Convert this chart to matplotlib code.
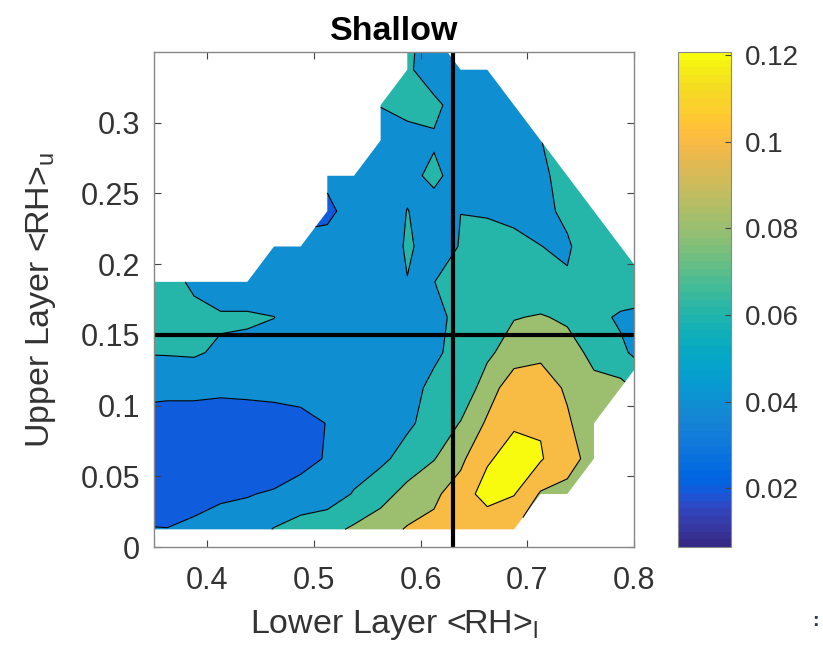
import numpy as np
import matplotlib
matplotlib.use("Agg")
import matplotlib.pyplot as plt
from matplotlib.colors import ListedColormap, Normalize
from matplotlib.cm import ScalarMappable

plt.rcParams['font.family'] = ['Liberation Sans', 'DejaVu Sans']
plt.rcParams['mathtext.fontset'] = 'custom'
plt.rcParams['mathtext.rm'] = 'Liberation Sans'

# grid of bin centres (lower layer RH along x, upper layer RH along y)
rh_lower = [0.3375, 0.3625, 0.3875, 0.4125, 0.4375, 0.4625, 0.4875, 0.5125, 0.5375, 0.5625,
            0.5875, 0.6125, 0.6375, 0.6625, 0.6875, 0.7125, 0.7375, 0.7625, 0.7875, 0.8125]
rh_upper = [0.0125, 0.0375, 0.0625, 0.0875, 0.1125, 0.1375, 0.1625, 0.1875, 0.2125, 0.2375,
            0.2625, 0.2875, 0.3125, 0.3375, 0.3625]

N = np.nan
# rows go from bottom (rh_upper[0]) to top
z_rows = [
    [0.041, 0.0405, 0.044, 0.048, 0.049, 0.061, 0.070, 0.074, 0.083, 0.092, 0.1016, 0.104, 0.104, 0.102, 0.101, N, N, N, N, N],
    [0.030, 0.030, 0.033, 0.037, 0.039, 0.042, 0.045, 0.049, 0.0615, 0.072, 0.087, 0.097, 0.108, 0.130, 0.121, 0.098, 0.097, N, N, N],
    [0.027, 0.026, 0.026, 0.026, 0.027, 0.028, 0.036, 0.041, 0.050, 0.056, 0.067, 0.079, 0.096, 0.117, 0.130, 0.122, 0.104, 0.096, N, N],
    [0.035, 0.033, 0.033, 0.0297, 0.032, 0.0342, 0.0367, 0.0403, 0.048, 0.052, 0.057, 0.067, 0.081, 0.103, 0.117, 0.118, 0.102, 0.090, N, N],
    [0.044, 0.044, 0.044, 0.044, 0.044, 0.044, 0.044, 0.045, 0.047, 0.050, 0.054, 0.064, 0.0656, 0.090, 0.112, 0.107, 0.098, 0.085, 0.086, N],
    [0.061, 0.0615, 0.0625, 0.0566, 0.054, 0.052, 0.052, 0.050, 0.050, 0.050, 0.052, 0.057, 0.066, 0.076, 0.090, 0.097, 0.088, 0.075, 0.064, 0.050],
    [0.068, 0.068, 0.063, 0.063, 0.063, 0.0603, 0.050, 0.048, 0.049, 0.050, 0.052, 0.055, 0.065, 0.070, 0.079, 0.0815, 0.077, 0.066, 0.057, 0.055],
    [0.066, 0.064, 0.058, 0.045, 0.045, 0.045, 0.047, 0.048, 0.050, 0.052, 0.0594, 0.0598, 0.066, 0.068, 0.068, 0.065, 0.062, 0.070, 0.0747, 0.070],
    [N, N, N, N, N, 0.047, 0.045, 0.0465, 0.048, 0.044, 0.063, 0.051, 0.061, 0.066, 0.064, 0.0602, 0.0576, 0.072, 0.075, N],
    [N, N, N, N, N, N, N, 0.036, 0.0474, 0.046, 0.0605, 0.0526, 0.0599, 0.0585, 0.0563, 0.055, 0.064, 0.068, N, N],
    [N, N, N, N, N, N, N, 0.0438, 0.048, 0.050, 0.055, 0.064, 0.052, 0.050, 0.050, 0.056, 0.0674, N, N, N],
    [N, N, N, N, N, N, N, N, N, 0.045, 0.054, 0.058, 0.050, 0.048, 0.050, 0.0595, N, N, N, N],
    [N, N, N, N, N, N, N, N, N, 0.061, 0.065, 0.064, 0.052, 0.048, 0.050, N, N, N, N, N],
    [N, N, N, N, N, N, N, N, N, N, 0.063, 0.050, 0.050, 0.050, N, N, N, N, N, N],
    [N, N, N, N, N, N, N, N, N, N, 0.065, 0.050, N, N, N, N, N, N, N, N],
]
levels = [0.02, 0.04, 0.06, 0.08, 0.10, 0.12]
cmin, cmax = 0.0064, 0.1207
cross_x, cross_y = 0.63, 0.15

parula_rgb = [
    [0.2081, 0.1663, 0.5292], [0.2116, 0.1898, 0.5777], [0.2123, 0.2138, 0.6270], [0.2081, 0.2386, 0.6771],
    [0.1959, 0.2645, 0.7279], [0.1707, 0.2919, 0.7792], [0.1253, 0.3242, 0.8303], [0.0591, 0.3598, 0.8683],
    [0.0117, 0.3875, 0.8820], [0.0060, 0.4086, 0.8828], [0.0165, 0.4266, 0.8786], [0.0329, 0.4430, 0.8720],
    [0.0498, 0.4586, 0.8641], [0.0629, 0.4737, 0.8554], [0.0723, 0.4887, 0.8467], [0.0779, 0.5040, 0.8384],
    [0.0793, 0.5200, 0.8312], [0.0749, 0.5375, 0.8263], [0.0641, 0.5570, 0.8240], [0.0488, 0.5772, 0.8228],
    [0.0343, 0.5966, 0.8199], [0.0265, 0.6137, 0.8135], [0.0239, 0.6287, 0.8038], [0.0231, 0.6418, 0.7913],
    [0.0228, 0.6535, 0.7768], [0.0267, 0.6642, 0.7607], [0.0384, 0.6743, 0.7436], [0.0590, 0.6838, 0.7254],
    [0.0843, 0.6928, 0.7062], [0.1133, 0.7015, 0.6859], [0.1453, 0.7098, 0.6646], [0.1801, 0.7177, 0.6424],
    [0.2178, 0.7250, 0.6193], [0.2586, 0.7317, 0.5954], [0.3022, 0.7376, 0.5712], [0.3482, 0.7424, 0.5473],
    [0.3953, 0.7459, 0.5244], [0.4420, 0.7481, 0.5033], [0.4871, 0.7491, 0.4840], [0.5300, 0.7491, 0.4661],
    [0.5709, 0.7485, 0.4494], [0.6099, 0.7473, 0.4337], [0.6473, 0.7456, 0.4188], [0.6834, 0.7435, 0.4044],
    [0.7184, 0.7411, 0.3905], [0.7525, 0.7384, 0.3768], [0.7858, 0.7356, 0.3633], [0.8185, 0.7327, 0.3498],
    [0.8507, 0.7299, 0.3360], [0.8824, 0.7274, 0.3217], [0.9139, 0.7258, 0.3063], [0.9450, 0.7261, 0.2886],
    [0.9739, 0.7314, 0.2666], [0.9938, 0.7455, 0.2403], [0.9990, 0.7653, 0.2164], [0.9955, 0.7861, 0.1967],
    [0.9880, 0.8066, 0.1794], [0.9789, 0.8271, 0.1633], [0.9697, 0.8481, 0.1475], [0.9626, 0.8705, 0.1309],
    [0.9589, 0.8949, 0.1132], [0.9598, 0.9218, 0.0948], [0.9661, 0.9514, 0.0755], [0.9763, 0.9831, 0.0538]]
parula = ListedColormap(parula_rgb, name='parula')
norm = Normalize(cmin, cmax)

X, Y = np.meshgrid(rh_lower, rh_upper)
Z = np.ma.masked_invalid(np.array(z_rows))

fig = plt.figure(figsize=(8.23, 6.52), dpi=100)
ax = fig.add_axes([0.1871, 0.161, 0.5832, 0.7592])

# matlab style: each band takes the colour of its lower level
fill_levels = [-1.0] + levels + [1.0]
band_cols = [parula(norm(cmin))] + [parula(norm(l)) for l in levels]
ax.contourf(X, Y, Z, levels=fill_levels, colors=band_cols, corner_mask=True, antialiased=True)
ax.contour(X, Y, Z, levels=levels, colors='k', linewidths=0.8, corner_mask=True)

ax.axvline(cross_x, color='k', lw=3)
ax.axhline(cross_y, color='k', lw=3)

ax.set_xlim(0.35, 0.8)
ax.set_ylim(0, 0.35)
ax.set_xticks([0.4, 0.5, 0.6, 0.7, 0.8])
ax.set_xticklabels(['0.4', '0.5', '0.6', '0.7', '0.8'])
ax.set_yticks([0, 0.05, 0.1, 0.15, 0.2, 0.25, 0.3])
ax.set_yticklabels(['0', '0.05', '0.1', '0.15', '0.2', '0.25', '0.3'])
ax.tick_params(direction='in', top=True, right=True, length=5, width=0.8,
               labelsize=22, labelcolor='#333333', color='#444444', pad=10)
ax.tick_params(axis='x', pad=14)
for s in ax.spines.values():
    s.set_color('#888888')
    s.set_linewidth(1)

ax.set_xlabel(r'Lower Layer <RH>$_\mathrm{l}$', fontsize=24.5, color='#333333', labelpad=8)
ax.set_ylabel(r'Upper Layer <RH>$_\mathrm{u}$', fontsize=24.5, color='#333333', labelpad=16)
ax.set_title('Shallow', fontsize=24.5, fontweight='bold', pad=9)

cax = fig.add_axes([0.824, 0.161, 0.0644, 0.7592])
sm = ScalarMappable(norm=norm, cmap=parula)
cb = fig.colorbar(sm, cax=cax)
cb.set_ticks([0.02, 0.04, 0.06, 0.08, 0.1, 0.12])
cb.set_ticklabels(['0.02', '0.04', '0.06', '0.08', '0.1', '0.12'])
cb.ax.tick_params(direction='in', length=4, labelsize=20, labelcolor='#333333', color='#444444', pad=10)
cb.outline.set_edgecolor('#888888')

fig.text(0.995, 0.04, ':', fontsize=14, fontweight='bold', color='#1f3864', ha='right')

fig.savefig('out.png', dpi=100)
